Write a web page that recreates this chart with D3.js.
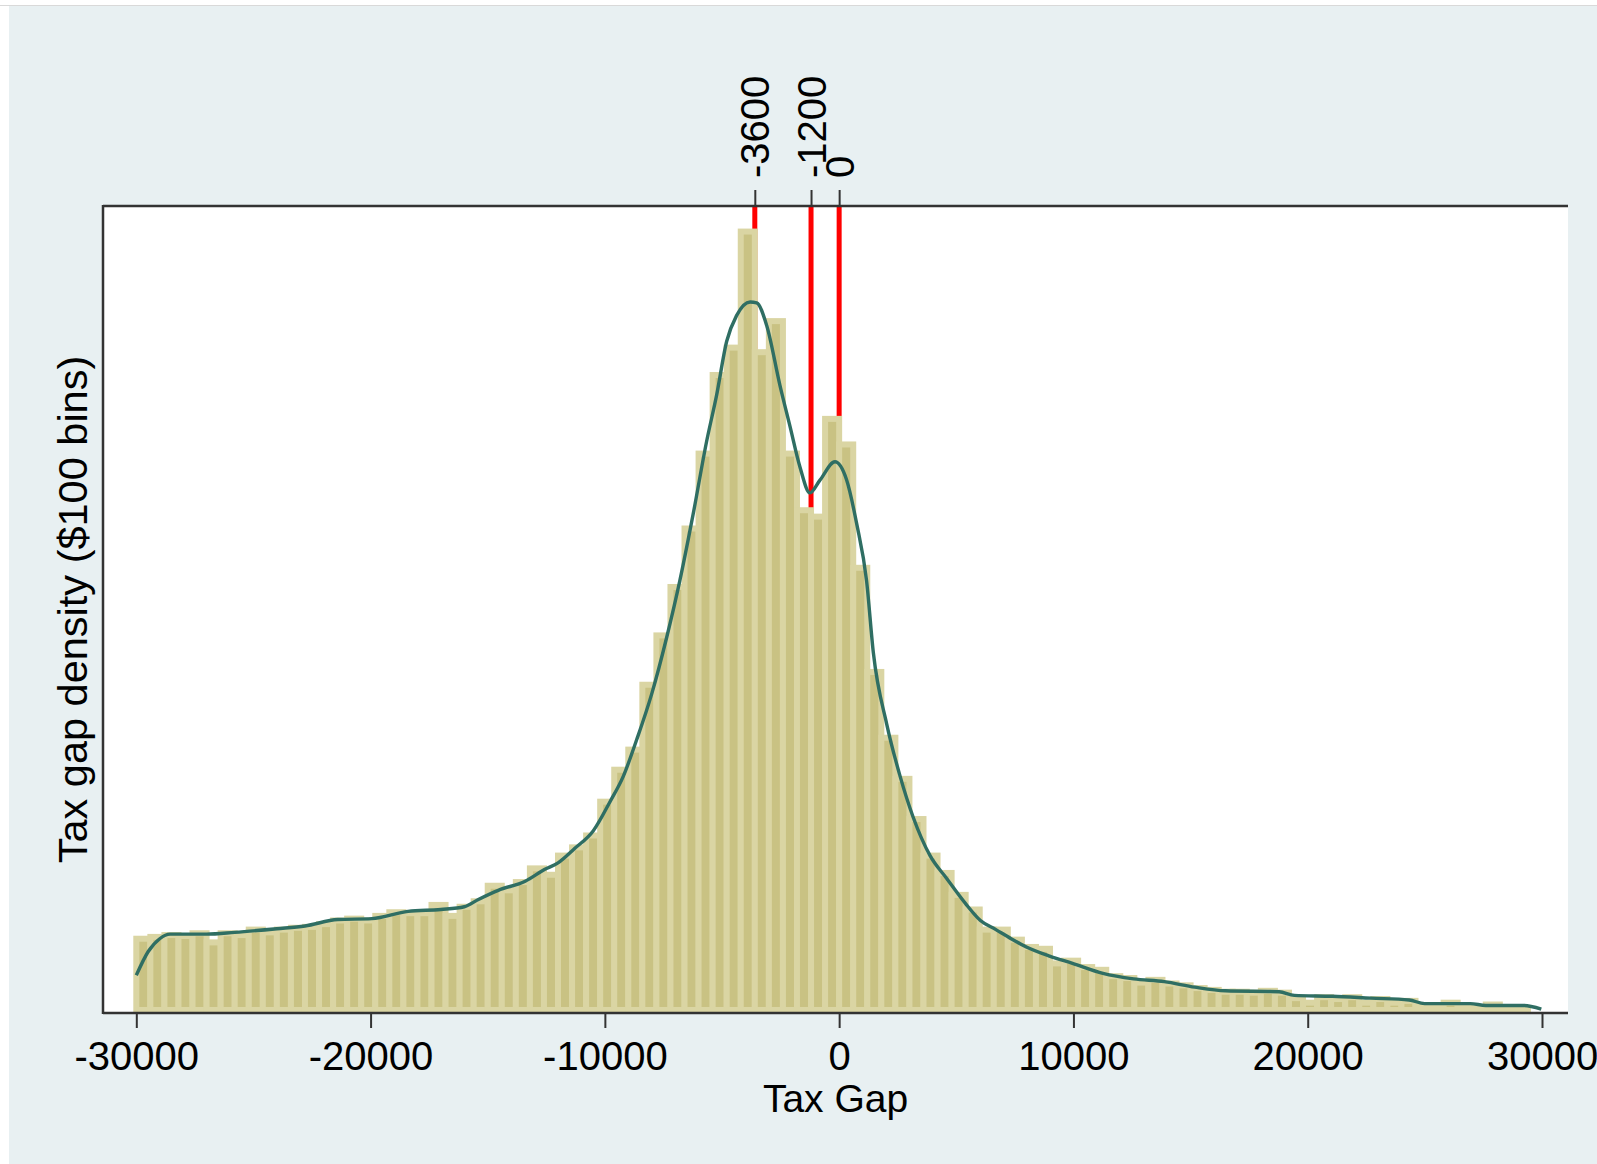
<!doctype html>
<html lang="en">
<head>
  <meta charset="utf-8">
  <title>Tax gap density</title>
  <script src="https://cdnjs.cloudflare.com/ajax/libs/d3/7.8.5/d3.min.js"></script>
  <style>
    body{
      margin:0;
      background:#fff;
    }
    svg{
      display:block;
      font-family:"Liberation Sans", Arial, sans-serif;
    }
  </style>
</head>
<body>
  <svg width="1597" height="1164"></svg>
  <script>

  // histogram: 100 bins of $600 from -30000 to 30000 (density x 1e-5)
  const binStart=-30000;
  const binWidth=600;
  const density=[
    0.78,0.80,0.82,0.81,0.84,0.74,0.84,0.82,0.88,0.85,
    0.88,0.90,0.91,0.94,0.98,1.00,0.98,1.03,1.07,1.06,
    1.06,1.15,1.03,1.13,1.19,1.36,1.31,1.40,1.55,1.48,
    1.69,1.78,1.91,2.28,2.63,2.85,3.56,4.10,4.63,5.27,
    6.09,6.95,7.25,8.52,7.20,7.54,6.09,5.47,5.40,6.47,
    6.19,4.84,3.70,2.98,2.53,2.09,1.69,1.50,1.26,1.10,
    0.88,0.88,0.77,0.69,0.67,0.51,0.54,0.47,0.44,0.37,
    0.35,0.30,0.33,0.29,0.27,0.24,0.22,0.20,0.20,0.19,
    0.21,0.19,0.13,0.08,0.14,0.12,0.14,0.08,0.12,0.08,
    0.10,0.04,0.04,0.08,0.04,0.02,0.06,0.02,0.02,0.00
  ];

  // kernel density curve
  const kdeX=[-30000,-29490,-29000,-28560,-27000,-25800,-24000,-22800,-21400,-19950,
    -18400,-17000,-16000,-15400,-14550,-13400,-12560,-12000,-11280,-10500,
    -9780,-9210,-8640,-8000,-7360,-6800,-6230,-5660,-5230,-4800,
    -4380,-3800,-3520,-3090,-2530,-2100,-1670,-1250,-820,-180,
    320,750,1170,1460,2030,2600,3160,3880,4590,5380,
    6030,6690,7340,7990,8980,9960,11260,12570,13880,15180,
    16490,18780,19430,21060,22700,24330,24990,26940,27600,29230,29970];
  const kdeY=[0.38,0.64,0.78,0.83,0.83,0.85,0.89,0.92,0.99,1.00,
    1.08,1.10,1.13,1.21,1.31,1.41,1.54,1.61,1.77,1.96,
    2.28,2.56,2.96,3.46,4.08,4.70,5.43,6.22,6.73,7.32,
    7.60,7.75,7.74,7.49,6.84,6.39,5.94,5.66,5.80,6.00,
    5.80,5.32,4.70,3.91,3.13,2.56,2.11,1.69,1.44,1.17,
    0.98,0.88,0.78,0.69,0.59,0.51,0.40,0.34,0.31,0.25,
    0.21,0.20,0.16,0.15,0.13,0.11,0.07,0.07,0.05,0.05,0.01];

  const markers=[-3600,-1200,0];
  const xTicks=[-30000,-20000,-10000,0,10000,20000,30000];

  const plot={left:103,right:1568,top:206,bottom:1013};

  const xScale=d3.scaleLinear()
  .domain([-30000,30000])
  .range([136.3,1542]);

  const yScale=d3.scaleLinear()
  .domain([0,8.8])
  .range([1010,plot.top]);

  // plain hyphen like the original, not d3's unicode minus
  const fmt=d=>String(d);

  const svg=d3.select("svg");

  // backgrounds
  svg.append("rect")
  .attr("x",9).attr("y",6)
  .attr("width",1597-9).attr("height",1164-6)
  .attr("fill","#e8f0f2");

  svg.append("line")
  .attr("x1",0).attr("x2",1597)
  .attr("y1",5.5).attr("y2",5.5)
  .attr("stroke","#d9d9d9");

  svg.append("rect")
  .attr("x",plot.left).attr("y",plot.top)
  .attr("width",plot.right-plot.left).attr("height",plot.bottom-plot.top)
  .attr("fill","#fff");

  // red reference lines (behind the bars)
  svg.append("g")
  .selectAll("line")
  .data(markers)
  .enter()
  .append("line")
  .attr("x1",d=>xScale(d)).attr("x2",d=>xScale(d))
  .attr("y1",plot.top).attr("y2",yScale(0))
  .attr("stroke","#ff0000")
  .attr("stroke-width",5);

  // bars
  svg.append("g")
  .selectAll("rect")
  .data(density)
  .enter()
  .append("rect")
  .attr("x",(d,i)=>xScale(binStart+i*binWidth))
  .attr("width",(d,i)=>xScale(binStart+(i+1)*binWidth)-xScale(binStart+i*binWidth))
  .attr("y",d=>yScale(d))
  .attr("height",d=>yScale(0)-yScale(d))
  .attr("fill","#c9c283")
  .attr("stroke","#dad5a3")
  .attr("stroke-width",6);

  // density line
  const line=d3.line()
  .x(d=>xScale(d[0]))
  .y(d=>yScale(d[1]))
  .curve(d3.curveMonotoneX);

  svg.append("path")
  .datum(kdeX.map((x,i)=>[x,kdeY[i]]))
  .attr("d",line)
  .attr("fill","none")
  .attr("stroke","#2f6e63")
  .attr("stroke-width",3.4);

  // axis frame lines
  const axisColor="#333";
  svg.append("line")
  .attr("x1",plot.left).attr("x2",plot.right)
  .attr("y1",plot.bottom).attr("y2",plot.bottom)
  .attr("stroke",axisColor).attr("stroke-width",2.5);
  svg.append("line")
  .attr("x1",plot.left).attr("x2",plot.right)
  .attr("y1",plot.top).attr("y2",plot.top)
  .attr("stroke",axisColor).attr("stroke-width",2.5);
  svg.append("line")
  .attr("x1",plot.left).attr("x2",plot.left)
  .attr("y1",plot.top-1).attr("y2",plot.bottom+1)
  .attr("stroke",axisColor).attr("stroke-width",2.5);

  // bottom axis
  const xAxis=svg.append("g")
  .attr("transform",`translate(0,${plot.bottom})`)
  .call(d3.axisBottom(xScale).tickValues(xTicks).tickFormat(fmt).tickSize(15).tickPadding(14).tickSizeOuter(0));
  xAxis.select(".domain").remove();
  xAxis.selectAll("line").attr("stroke",axisColor).attr("stroke-width",2);
  xAxis.selectAll("text")
  .attr("fill","#000")
  .style("font-size","40px")
  .style("font-family","'Liberation Sans', Arial, sans-serif");

  // top axis with marker labels
  const topAxis=svg.append("g")
  .attr("transform",`translate(0,${plot.top})`)
  .call(d3.axisTop(xScale).tickValues(markers).tickFormat(fmt).tickSize(16).tickSizeOuter(0));
  topAxis.select(".domain").remove();
  topAxis.selectAll("line").attr("stroke",axisColor).attr("stroke-width",2);
  topAxis.selectAll("text")
  .attr("transform","rotate(-90)")
  .attr("x",28)
  .attr("y",0)
  .attr("dy","0.35em")
  .attr("fill","#000")
  .style("text-anchor","start")
  .style("font-size","40px")
  .style("font-family","'Liberation Sans', Arial, sans-serif");

  // axis titles
  svg.append("text")
  .attr("x",(plot.left+plot.right)/2)
  .attr("y",1112)
  .style("text-anchor","middle")
  .style("font-size","39px")
  .text("Tax Gap");

  svg.append("text")
  .attr("transform",`translate(87,${(plot.top+plot.bottom)/2}) rotate(-90)`)
  .style("text-anchor","middle")
  .style("font-size","41.5px")
  .text("Tax gap density ($100 bins)");

  </script>
</body>
</html>
